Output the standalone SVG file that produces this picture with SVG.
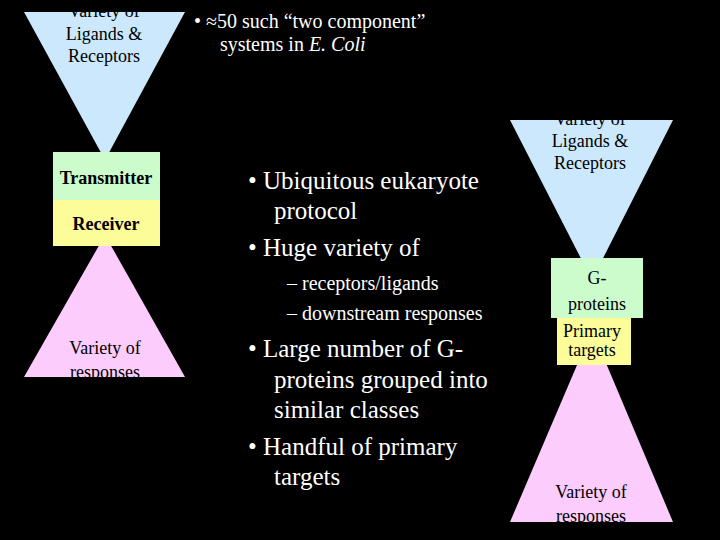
<svg xmlns="http://www.w3.org/2000/svg" width="720" height="540" viewBox="0 0 720 540" font-family="'Liberation Serif','DejaVu Serif',serif">
<style>
text{font-family:'Liberation Serif','DejaVu Serif',serif;}
.d{fill:#000;font-size:18px;text-anchor:middle}
.w{fill:#fff;font-size:25px}
.s{fill:#fff;font-size:20px}
</style>
<defs>
<clipPath id="c1"><polygon points="24,12 185,12 105,160"/></clipPath>
<clipPath id="c2"><polygon points="510,120 673,120 592,280"/></clipPath>
<clipPath id="c3"><rect x="0" y="0" width="720" height="378"/></clipPath>
<clipPath id="c4"><rect x="0" y="0" width="720" height="523"/></clipPath>
</defs>
<rect width="720" height="540" fill="#000"/>
<g id="left">
<polygon points="24,12 185,12 105,160" fill="#cce8fc"/>
<g clip-path="url(#c1)">
<text class="d" x="104" y="17">Variety of</text>
<text class="d" x="104" y="40">Ligands &amp;</text>
<text class="d" x="104" y="62">Receptors</text>
</g>
<polygon points="105,235 185,377 24,377" fill="#fccdfc"/>
<g clip-path="url(#c3)">
<text class="d" x="105" y="354">Variety of</text>
<text class="d" x="105" y="378">responses</text>
</g>
<rect x="53" y="152" width="107" height="48" fill="#ccfccc"/>
<rect x="53" y="200" width="107" height="46" fill="#fcfc99"/>
<text class="d" x="106" y="184" font-weight="bold" font-size="17">Transmitter</text>
<text class="d" x="106" y="230" font-weight="bold" font-size="17">Receiver</text>
</g>
<g id="right">
<polygon points="510,120 673,120 592,280" fill="#cce8fc"/>
<g clip-path="url(#c2)">
<text class="d" x="590" y="125">Variety of</text>
<text class="d" x="590" y="147">Ligands &amp;</text>
<text class="d" x="590" y="169">Receptors</text>
</g>
<polygon points="592,330 673,522 510,522" fill="#fccdfc"/>
<g clip-path="url(#c4)">
<text class="d" x="591" y="498">Variety of</text>
<text class="d" x="591" y="522">responses</text>
</g>
<rect x="551" y="258" width="92" height="60" fill="#ccfccc"/>
<text class="d" x="597" y="284" font-size="22">G-</text>
<text class="d" x="597" y="310" font-size="22">proteins</text>
<rect x="557" y="318" width="74" height="47" fill="#fcfc99"/>
<text class="d" x="592" y="337" font-size="15">Primary</text>
<text class="d" x="592" y="356" font-size="15">targets</text>
</g>
<g id="text">
<text class="s" x="194" y="28">• ≈50 such “two component”</text>
<text class="s" x="220" y="51">systems in <tspan font-style="italic">E. Coli</tspan></text>
<text class="w" x="248" y="189">• Ubiquitous eukaryote</text>
<text class="w" x="274" y="219">protocol</text>
<text class="w" x="248" y="256">• Huge variety of</text>
<text class="s" x="287" y="290">– receptors/ligands</text>
<text class="s" x="287" y="320">– downstream responses</text>
<text class="w" x="248" y="357">• Large number of G-</text>
<text class="w" x="274" y="388">proteins grouped into</text>
<text class="w" x="274" y="418">similar classes</text>
<text class="w" x="248" y="455">• Handful of primary</text>
<text class="w" x="274" y="485">targets</text>
</g>
<g id="connectors"/>
</svg>
